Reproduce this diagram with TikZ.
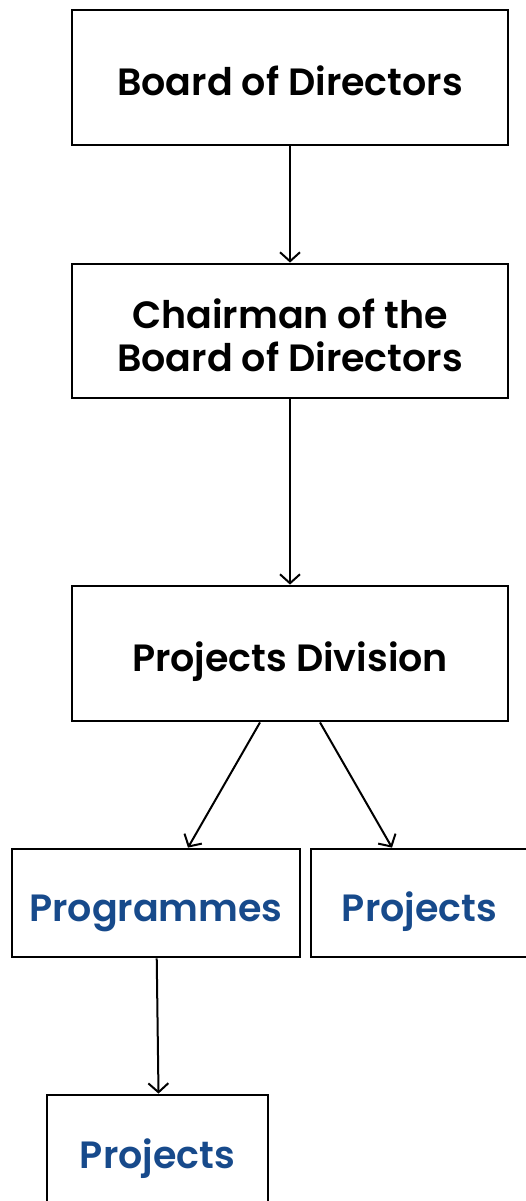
\documentclass[tikz,border=0pt]{standalone}
\usepackage{fontspec}
\setmainfont{Poppins}[BoldFont={Poppins SemiBold}]
\usetikzlibrary{arrows.meta}
\definecolor{unitblue}{HTML}{174A8B}

\begin{document}
\begin{tikzpicture}[x=1pt,y=-1pt]

% GLOBAL SETTINGS
\newcommand{\wide}{436pt}
\newcommand{\tall}{135pt}
\newcommand{\Topstyle}{orgbox}
\newcommand{\Unitstyle}{unitbox}

% SHARED CODE
\tikzset{
orgbox/.style={draw, line width=2.8pt, minimum width=\wide, minimum height=\tall,
  inner sep=0pt, align=center, text height=36pt, text depth=0pt,
  font=\fontsize{38}{43}\selectfont\bfseries},
unitbox/.style={\Topstyle, text=unitblue, minimum height=108pt},
link/.style={line width=2pt, -{Straight Barb[length=9pt,width=20pt,line width=2pt]}}
}
\useasboundingbox (0,0) rectangle (526,1201);

% top of the chart
\node[\Topstyle] (board) at (290,77.5) {Board of Directors};
\node[\Topstyle, minimum height=134pt, text height=80pt] (chair) at (290,331) {Chairman of the\\Board of Directors};
\node[\Topstyle] (div) at (290,653.5) {Projects Division};
% units
\node[\Unitstyle, minimum width=288pt] (prog) at (156,903) {Programmes};
\node[\Unitstyle, minimum width=217pt] (projR) at (419.5,903) {Projects};
\node[\Unitstyle, minimum width=221pt, minimum height=110pt] (projB) at (157.5,1150) {Projects};

% EDGES
\draw[link] (board) -- (chair) ;
\draw[link] (chair) -- (div) ;
\draw[link] ([xshift=-30pt]div.south) -- ([xshift=32pt]prog.north) ;
\draw[link] ([xshift=30pt]div.south) -- ([xshift=-27.5pt]projR.north) ;
\draw[link] (prog) -- ([xshift=1pt]projB.north) ;

\end{tikzpicture}
\end{document}
